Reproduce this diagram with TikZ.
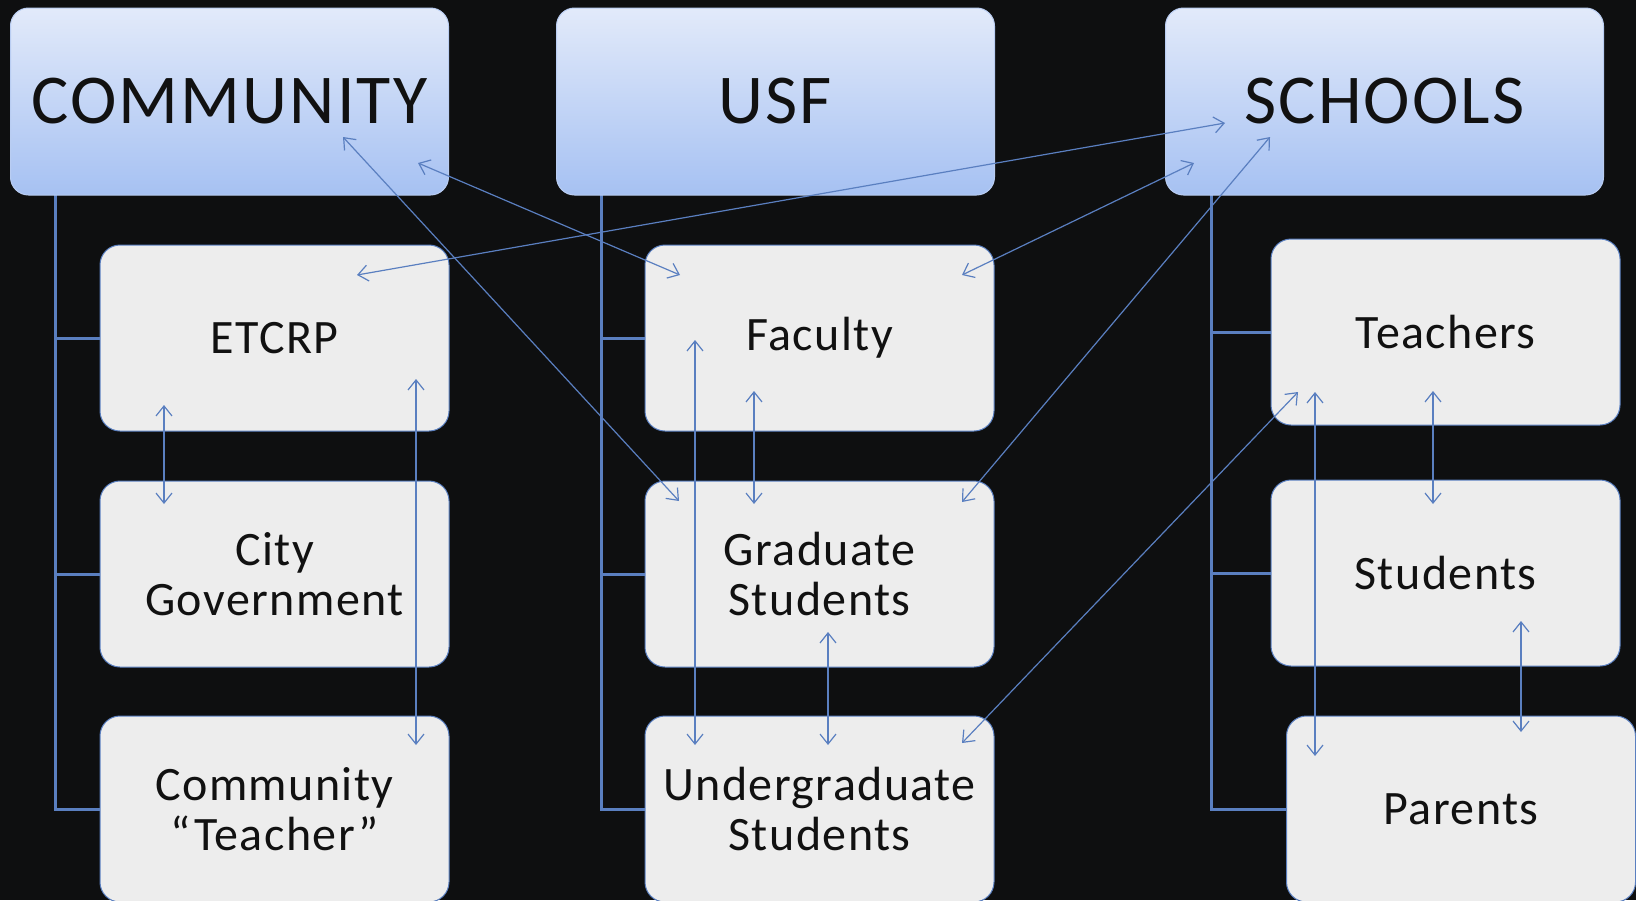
\documentclass[tikz,border=0pt]{standalone}
\usepackage{fontspec}
\setmainfont{Carlito}[LetterSpace=3]
\usetikzlibrary{arrows.meta,positioning}
\definecolor{slide}{HTML}{0E0F10}
\definecolor{link}{HTML}{5A7FC0}
\definecolor{headtop}{HTML}{E2EAFA}
\definecolor{headbot}{HTML}{A6C1F2}
\definecolor{headline}{HTML}{B9CDF2}
\definecolor{boxgray}{HTML}{EDEDED}
\definecolor{ink}{HTML}{111111}
\tikzset{
	head/.style={rounded corners=9pt, minimum width=219pt, minimum height=93.5pt,
			top color=headtop, bottom color=headbot, draw=headline, line width=0.5pt,
			text=ink, font=\fontsize{35}{40}\selectfont},
	member/.style={rounded corners=10pt, minimum width=174.5pt, minimum height=93pt,
			fill=boxgray, draw=link, line width=0.5pt, align=center,
			text=ink, font=\fontsize{24}{25}\selectfont},
	trunk/.style={draw=link, line width=1.5pt},
	link/.style={draw=link, line width=0.6pt, <->, >={Straight Barb[length=5pt,width=8pt]}}
}

\begin{document}
\begin{tikzpicture}[x=0.5pt, y=-0.5pt]

	% Background
	\useasboundingbox (0,0) rectangle (1636,900);
	\fill[slide] (0,0) rectangle (1636,900);

	% Tree trunks (drawn first, boxes sit on top)
	\coordinate (ct) at (55,195);
	\coordinate (ut) at (601,195);
	\coordinate (st) at (1211,195);
	\draw[trunk] (ct) |- (274,338) (ct) |- (274,574) (ct) |- (274,809);
	\draw[trunk] (ut) |- (819,338) (ut) |- (819,574) (ut) |- (819,809);
	\draw[trunk] (st) |- (1445,332) (st) |- (1445,573) (st) |- (1461,809);

	% The three groups
	\node[head] (community) at (229.5,101.5) {COMMUNITY};
	\node[head] (usf) at (775.5,101.5) {USF};
	\node[head] (schools) at (1384.5,101.5) {SCHOOLS};

	% Members of each group
	\node[member] (etcrp) at (274.5,338) {ETCRP};
	\node[member] (city) at (274.5,574) {City\\Government};
	\node[member] (cteacher) at (274.5,809) {Community\\``Teacher''};

	\node[member] (faculty) at (819.5,338) {Faculty};
	\node[member] (grad) at (819.5,574) {Graduate\\Students};
	\node[member] (under) at (819.5,809) {Undergraduate\\Students};

	\node[member] (teachers) at (1445.5,332) {Teachers};
	\node[member] (students) at (1445.5,573) {Students};
	\node[member] (parents) at (1461,809) {Parents};

	% Links between the groups
	\draw[link] ([shift={(113.5,35.5)}]community.center) -- ([shift={(-140.5,-73)}]grad.center);
	\draw[link] ([shift={(188.5,61.5)}]community.center) -- ([shift={(-139.5,-63)}]faculty.center);
	\draw[link] ([shift={(82.5,-63)}]etcrp.center) -- ([shift={(-159.5,21.5)}]schools.center);
	\draw[link] ([shift={(-190.5,61.5)}]schools.center) -- ([shift={(142.5,-63)}]faculty.center);
	\draw[link] ([shift={(-114.5,35.5)}]schools.center) -- ([shift={(142.5,-72)}]grad.center);
	\draw[link] ([shift={(-147.5,60)}]teachers.center) -- ([shift={(142.5,-66)}]under.center);

	% Links inside the groups
	\draw[link] ([shift={(-110.5,67)}]etcrp.center) -- ([shift={(-110.5,-70)}]city.center);
	\draw[link] ([shift={(141.5,41)}]etcrp.center) -- ([shift={(141.5,-64)}]cteacher.center);
	\draw[link] ([shift={(-124.5,2)}]faculty.center) -- ([shift={(-124.5,-64)}]under.center);
	\draw[link] ([shift={(-65.5,53)}]faculty.center) -- ([shift={(-65.5,-70)}]grad.center);
	\draw[link] ([shift={(8.5,58)}]grad.center) -- ([shift={(8.5,-64)}]under.center);
	\draw[link] ([shift={(-130.5,60)}]teachers.center) -- ([shift={(-146,-53)}]parents.center);
	\draw[link] ([shift={(-12.5,59)}]teachers.center) -- ([shift={(-12.5,-69)}]students.center);
	\draw[link] ([shift={(75.5,48)}]students.center) -- ([shift={(60,-77)}]parents.center);

\end{tikzpicture}
\end{document}
